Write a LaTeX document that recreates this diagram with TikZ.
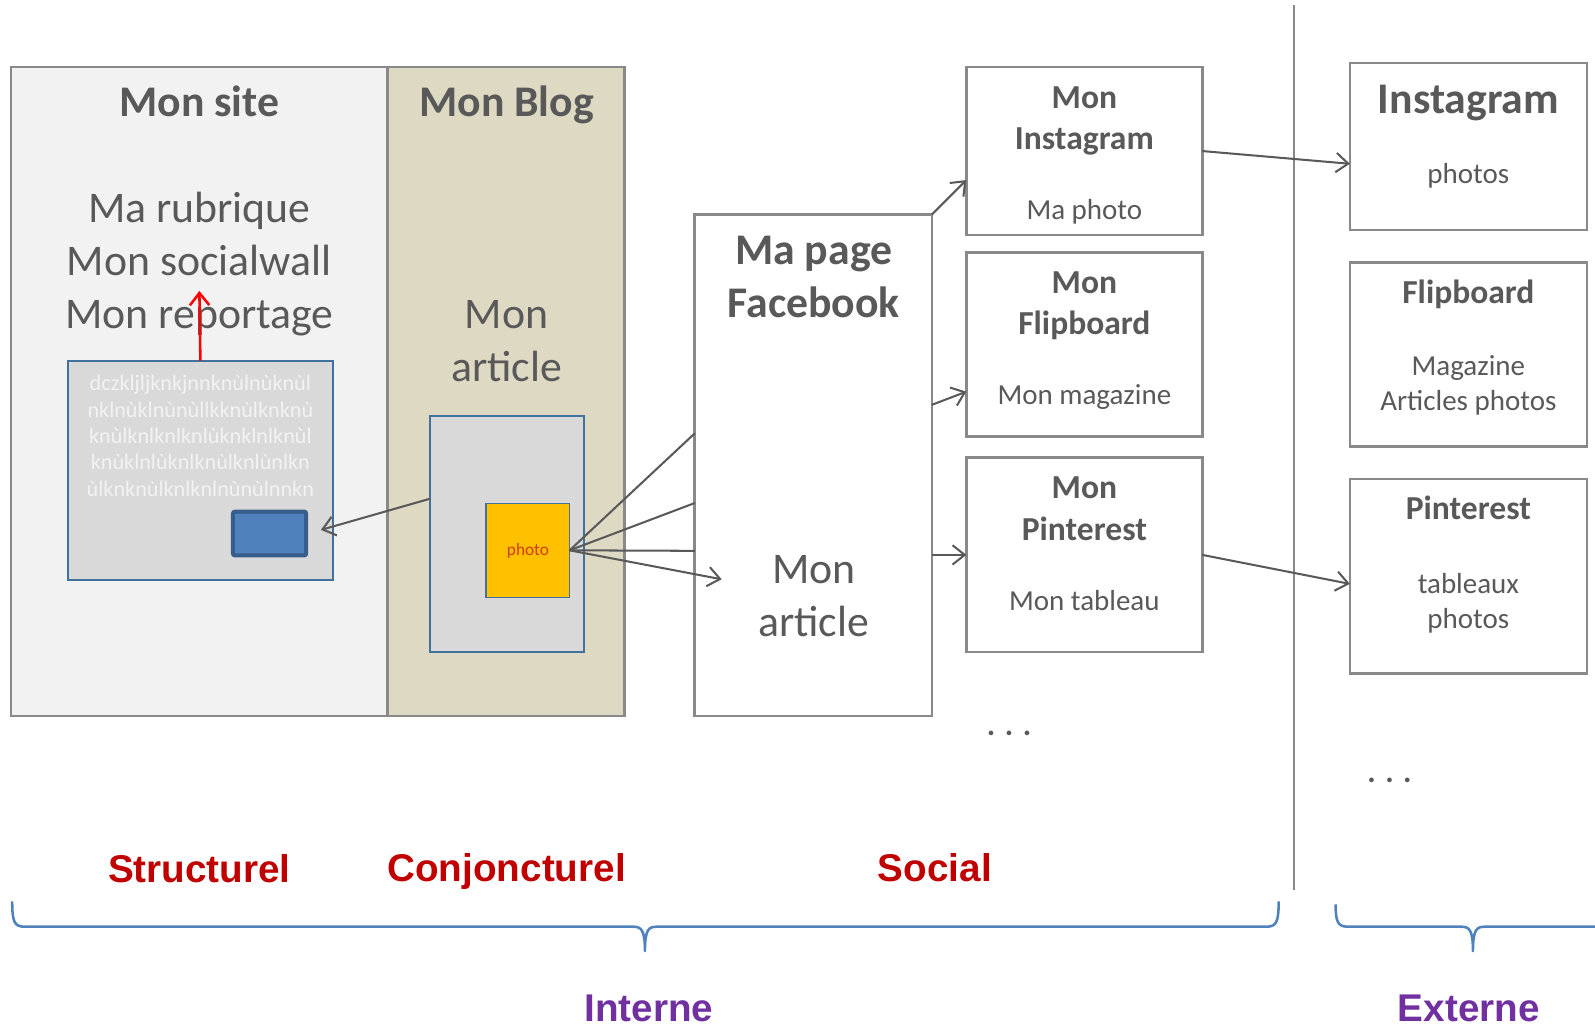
\documentclass[tikz,border=0pt]{standalone}
\usepackage{fontspec}
\setmainfont{Carlito}
\newfontfamily\arialfont{Liberation Sans}
\usetikzlibrary{arrows.meta}

\definecolor{textgray}{RGB}{89,89,89}
\definecolor{boxgray}{RGB}{137,137,137}
\definecolor{linkgray}{RGB}{89,89,89}
\definecolor{sitefill}{RGB}{242,242,242}
\definecolor{blogfill}{RGB}{221,217,195}
\definecolor{insetfill}{RGB}{217,217,217}
\definecolor{insetblue}{RGB}{65,113,156}
\definecolor{btnfill}{RGB}{79,129,189}
\definecolor{btnline}{RGB}{56,93,138}
\definecolor{photofill}{RGB}{255,192,0}
\definecolor{phototext}{RGB}{210,60,0}
\definecolor{labelred}{RGB}{192,0,0}
\definecolor{labelpurple}{RGB}{112,48,160}
\definecolor{braceblue}{RGB}{79,129,189}

\def\bigfont{\fontsize{43}{52}\selectfont}
\def\midfont{\fontsize{33}{40}\selectfont}
\def\smallfont{\fontsize{28.5}{34}\selectfont}
\def\tinyfont{\fontsize{21.8}{26}\selectfont}
\def\dotsfont{\fontsize{31}{36}\selectfont\bfseries}
\def\labelsize{\fontsize{38}{46}\selectfont}

\tikzset{
  pane/.style={draw=boxgray, line width=2.5pt, inner sep=0pt, outer sep=0pt},
  card/.style={pane, fill=white},
  inset/.style={draw=insetblue, line width=2pt, fill=insetfill, inner sep=0pt, outer sep=0pt},
  txt/.style={anchor=base, inner sep=0pt, text=textgray},
  tag/.style={anchor=base, inner sep=0pt, font=\arialfont\labelsize\bfseries},
  link/.style={draw=linkgray, line width=2pt, -{Straight Barb[length=12pt,width=19pt]}},
  plainlink/.style={draw=linkgray, line width=2pt},
  redlink/.style={draw=red, line width=2.5pt, -{Straight Barb[length=12pt,width=19pt]}},
  brace/.style={draw=braceblue, line width=2.5pt, line join=round}
}

\begin{document}
\begin{tikzpicture}[x=1pt, y=-1pt]
  \useasboundingbox (0,0) rectangle (1568,1009);

  % interne : site et blog
  \node[pane, fill=sitefill, minimum width=370, minimum height=638] (site) at (196,385) {};
  \node[pane, fill=blogfill, minimum width=233, minimum height=638] (blog) at (497.5,385) {};
  \node[txt, font=\bigfont\bfseries] (sitettl) at (196,115) {Mon site};
  \node[txt, font=\bigfont\bfseries] (blogttl) at (498,115) {Mon Blog};
  \foreach \y/\txt [count=\i] in {219/Ma rubrique, 271/Mon socialwall, 323/Mon reportage}
    \node[txt, font=\bigfont] (siteitem\i) at (196,\y) {\txt};
  \node[txt, font=\bigfont] (blogmon) at (498,323) {Mon};
  \node[txt, font=\bigfont] (blogart) at (498,375) {article};

  % encart du site
  \node[inset, minimum width=260, minimum height=216] (sitein) at (197,462.5) {};
  \foreach \y/\txt [count=\i] in {384/dczkljljknkjnnknùlnùknùl, 410/nklnùklnùnùllkknùlknknù,
      436/knùlknlknlknlùknklnlknùl, 462/knùklnlùknlknùlknlùnlkn, 488/ùlknknùlknlknlnùnùlnnkn}
    \node[txt, font=\tinyfont, text=sitefill] (filler\i) at (197,\y) {\txt};
  \node[draw=btnline, line width=4pt, fill=btnfill, rounded corners=2pt,
    minimum width=72, minimum height=43, inner sep=0pt] (btn) at (265,524.5) {};
  \coordinate (rtip) at (196,286);
  \draw[redlink] (sitein.north) -- (rtip);

  % encart du blog
  \node[inset, minimum width=151, minimum height=232] (bloginner) at (498.5,525) {};
  \node[draw=insetblue, line width=1.5pt, fill=photofill, minimum width=82, minimum height=92.5,
    inner sep=0pt, outer sep=0pt] (photo) at (519,541) {};
  \node[txt, font=\fontsize{17}{20}\selectfont, text=phototext] (phototxt) at (519,546.5) {photo};
  \draw[link, shorten >=13pt] ([yshift=34.8pt]bloginner.west) -- (btn.east);

  % page facebook
  \node[card, minimum width=233, minimum height=493] (fb) at (799.5,457.5) {};
  \node[txt, font=\bigfont\bfseries] (fbttl1) at (800,260) {Ma page};
  \node[txt, font=\bigfont\bfseries] (fbttl2) at (800,312) {Facebook};
  \node[txt, font=\bigfont] (fbmon) at (800,574) {Mon};
  \node[txt, font=\bigfont] (fbart) at (800,626) {article};
  \coordinate (fbin) at (709.5,569.5);

  \draw[plainlink] (photo.east) -- ([yshift=31.5pt]fb.west);
  \draw[plainlink] (photo.east) -- ([yshift=-37pt]fb.west);
  \draw[plainlink] (photo.east) -- ([yshift=-84pt]fb.west);
  \draw[link] (photo.east) -- (fbin);

  % reseaux sociaux
  \foreach \nm/\ytop/\hgt/\ttl/\subtxt in {mig/66/165/Instagram/Ma photo,
      mflip/248/181/Flipboard/Mon magazine, mpin/450/191/Pinterest/Mon tableau} {
    \node[card, minimum width=232, minimum height=\hgt, anchor=north] (\nm) at (1066,\ytop) {};
    \node[txt, font=\midfont\bfseries] (\nm-a) at (1066,\ytop+40.5) {Mon};
    \node[txt, font=\midfont\bfseries] (\nm-b) at (1066,\ytop+81) {\ttl};
    \node[txt, font=\smallfont] (\nm-c) at (1066,\ytop+150) {\subtxt};
  }
  \node[txt, font=\dotsfont] (moresoc) at (992,723) {. . .};

  \draw[link] (fb.north east) -- ([yshift=-28.5pt]mig.west);
  \draw[link] ([yshift=59.5pt]fb.east) -- ([yshift=-46.5pt]mflip.west);
  \draw[link] (fb.east |- mpin.west) -- (mpin.west);

  % externe
  \draw[draw=boxgray, line width=2pt] (1272,5) -- (1272,875);
  \node[card, minimum width=233, minimum height=164, anchor=north] (inst) at (1443.5,62) {};
  \node[txt, font=\bigfont\bfseries] (inst-a) at (1443.5,111.5) {Instagram};
  \node[txt, font=\smallfont] (inst-b) at (1443.5,180) {photos};
  \node[card, minimum width=233, minimum height=181, anchor=north] (flip) at (1443.5,258) {};
  \node[txt, font=\midfont\bfseries] (flip-a) at (1443.5,298) {Flipboard};
  \node[txt, font=\smallfont] (flip-b) at (1443.5,369.5) {Magazine};
  \node[txt, font=\smallfont] (flip-c) at (1443.5,403.5) {Articles photos};
  \node[card, minimum width=233, minimum height=191, anchor=north] (pin) at (1443.5,471) {};
  \node[txt, font=\midfont\bfseries] (pin-a) at (1443.5,511) {Pinterest};
  \node[txt, font=\smallfont] (pin-b) at (1443.5,583.5) {tableaux};
  \node[txt, font=\smallfont] (pin-c) at (1443.5,617.5) {photos};
  \node[txt, font=\dotsfont] (moreext) at (1366,769) {. . .};

  \draw[link] (mig.east) -- ([yshift=-17pt]inst.west);
  \draw[link] (mpin.east) -- ([yshift=-7.5pt]pin.west);

  % categories
  \node[tag, text=labelred] (structurel) at (196,868) {Structurel};
  \node[tag, text=labelred] (conjoncturel) at (498,867) {Conjoncturel};
  \node[tag, text=labelred] (social) at (919,867) {Social};

  \draw[brace] (12,886) .. controls (12,906) and (14,911) .. (24,911) -- (622,911)
    .. controls (630,911) and (634,913) .. (634,935)
    .. controls (634,913) and (638,911) .. (646,911) -- (1245,911)
    .. controls (1255,911) and (1257,906) .. (1257,886);
  \draw[brace] (1313,889) .. controls (1313,906) and (1315,911) .. (1325,911) -- (1436,911)
    .. controls (1444,911) and (1448,913) .. (1448,935)
    .. controls (1448,913) and (1452,911) .. (1460,911) -- (1568,911);

  \node[tag, text=labelpurple] (interne) at (638,1004) {Interne};
  \node[tag, text=labelpurple] (externe) at (1444,1004) {Externe};
\end{tikzpicture}
\end{document}
